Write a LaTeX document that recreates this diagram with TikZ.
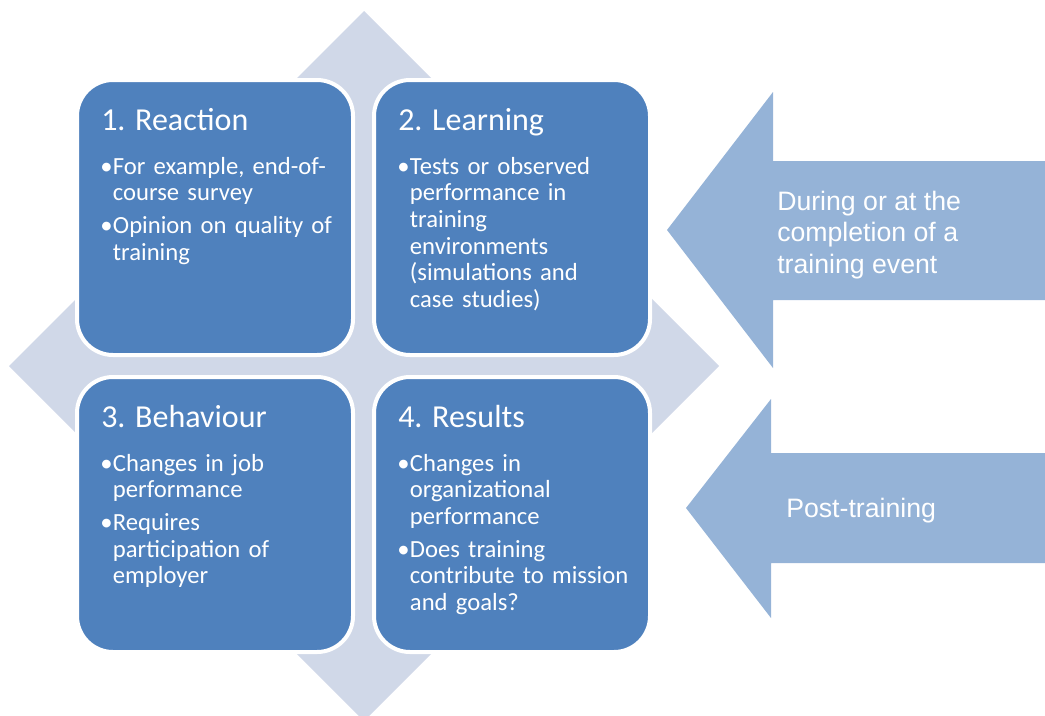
\documentclass[tikz,border=0pt]{standalone}
\usepackage{fontspec}
\setmainfont{Carlito}
\newfontfamily\arrowfont{Liberation Sans}
\usepackage{tikz}

\definecolor{levelblue}{RGB}{79,129,189}
\definecolor{diamondgrey}{RGB}{208,216,232}
\definecolor{arrowblue}{RGB}{149,179,215}

\newcommand\lvpoint[1]{\par\hangindent=9.5pt\hangafter=1\noindent\makebox[9.5pt][l]{\textbullet}#1\par}

\tikzset{
  levelbox/.style={fill=levelblue, draw=white, line width=3pt, rounded corners=27pt,
    minimum width=207pt, minimum height=206.25pt, inner sep=0pt},
  leveltitle/.style={anchor=base west, inner sep=0pt, text=white,
    font=\fontsize{24}{28}\selectfont},
  levellist/.style={anchor=north west, inner sep=0pt, text=white, text width=182pt,
    align=left, font=\fontsize{18.5}{20}\selectfont,
    execute at begin node={\setlength{\parskip}{4.6pt}}},
  phasetext/.style={anchor=base west, inner sep=0pt, text=white, align=left,
    font=\arrowfont\fontsize{20}{23.6}\selectfont}
}

\begin{document}
\begin{tikzpicture}[x=0.75pt,y=0.75pt,yscale=-1,xscale=1]
\useasboundingbox (0,0) rectangle (1045,715);

%Shape: Diamond
\fill [diamondgrey] (364,11) -- (719,366) -- (364,721) -- (9,366) -- cycle ;

%Shape: Left Arrow
\fill [arrowblue] (1045,161) -- (773,161) -- (773,92) -- (667,230) -- (773,368) -- (773,300) -- (1045,300) -- cycle ;
%Shape: Left Arrow
\fill [arrowblue] (1045,453) -- (771,453) -- (771,399) -- (686,508) -- (771,618) -- (771,563) -- (1045,563) -- cycle ;

%Rounded Rect
\node [levelbox] (reaction) at (215,217.5) {};
\node [levelbox] (learning) at (512,217.5) {};
\node [levelbox] (behaviour) at (215,514.5) {};
\node [levelbox] (results) at (512,514.5) {};

% Text Node
\node [leveltitle] (reactiontitle) at (101,130) {1. Reaction};
\node [levellist] (reactionlist) at (100,141) {%
\lvpoint{For example, end-of-\newline course survey}%
\lvpoint{Opinion on quality of\newline training}};
% Text Node
\node [leveltitle] (learningtitle) at (398,130) {2. Learning};
\node [levellist] (learninglist) at (397,141) {%
\lvpoint{Tests or observed\newline performance in\newline training\newline environments\newline (simulations and\newline case studies)}};
% Text Node
\node [leveltitle] (behaviourtitle) at (101,427) {3. Behaviour};
\node [levellist] (behaviourlist) at (100,438) {%
\lvpoint{Changes in job\newline performance}%
\lvpoint{Requires\newline participation of\newline employer}};
% Text Node
\node [leveltitle] (resultstitle) at (398,427) {4. Results};
\node [levellist] (resultslist) at (397,438) {%
\lvpoint{Changes in\newline organizational\newline performance}%
\lvpoint{Does training\newline contribute to mission\newline and goals?}};

% Text Node
\node [phasetext] (during) at (777,273) {During or at the\\completion of a\\training event};
% Text Node
\node [phasetext] (post) at (786,517) {Post-training};

\end{tikzpicture}
\end{document}
